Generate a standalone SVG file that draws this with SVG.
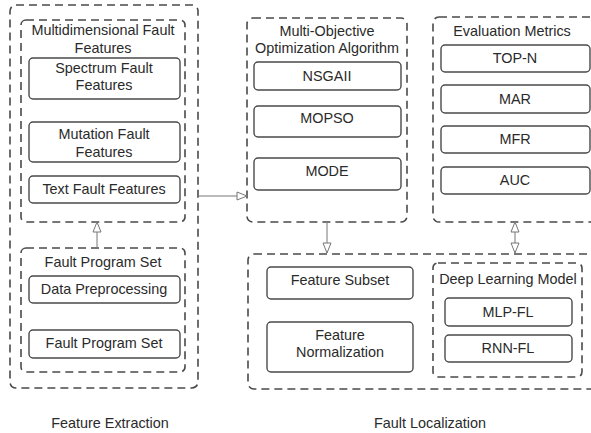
<svg xmlns="http://www.w3.org/2000/svg" width="591" height="433" viewBox="0 0 591 433">
<defs>
<style>
.grp{fill:none;stroke:#4a4a4a;stroke-width:1.6;stroke-dasharray:8 5}
.box{fill:#fff;stroke:#4a4a4a;stroke-width:1.4}
.t{font-family:"Liberation Sans",Arial,sans-serif;font-size:14.4px;fill:#2a2a2a;text-anchor:middle;dominant-baseline:central}
.c{fill:none;stroke:#777;stroke-width:1}
</style>
<marker id="ah" viewBox="0 0 12 10" refX="11" refY="5" markerWidth="12" markerHeight="10" markerUnits="userSpaceOnUse" orient="auto-start-reverse">
<path d="M1,1 L11,5 L1,9 Z" fill="#fff" stroke="#777" stroke-width="1"/>
</marker>
</defs>
<rect width="591" height="433" fill="#fff"/>

<g id="feature-extraction">
<rect class="grp" x="10" y="5" width="188" height="383" rx="6"/>
<text class="t" x="110" y="423">Feature Extraction</text>
</g>
<g id="multidimensional">
<rect class="grp" x="21" y="20" width="164" height="202" rx="5"/>
<text class="t" x="103" y="30">Multidimensional Fault</text>
<text class="t" x="103" y="48">Features</text>
</g>
<g id="spectrum">
<rect class="box" x="29" y="58" width="151" height="41" rx="4"/>
<text class="t" x="104" y="68">Spectrum Fault</text>
<text class="t" x="104" y="85">Features</text>
</g>
<g id="mutation">
<rect class="box" x="29" y="122" width="151" height="40" rx="4"/>
<text class="t" x="104" y="134">Mutation Fault</text>
<text class="t" x="104" y="152">Features</text>
</g>
<g id="text-features">
<rect class="box" x="29" y="176" width="151" height="27" rx="4"/>
<text class="t" x="104" y="189">Text Fault Features</text>
</g>
<g id="fault-program-set-group">
<rect class="grp" x="21" y="248" width="164" height="124" rx="5"/>
<text class="t" x="103" y="262">Fault Program Set</text>
</g>
<g id="data-preprocessing">
<rect class="box" x="29" y="276" width="151" height="27" rx="4"/>
<text class="t" x="104" y="289">Data Preprocessing</text>
</g>
<g id="fault-program-set">
<rect class="box" x="29" y="330" width="151" height="28" rx="4"/>
<text class="t" x="104" y="343">Fault Program Set</text>
</g>

<g id="moo">
<rect class="grp" x="247" y="18" width="160" height="204" rx="6"/>
<text class="t" x="327" y="31">Multi-Objective</text>
<text class="t" x="327" y="48">Optimization Algorithm</text>
</g>
<g id="nsgaii">
<rect class="box" x="254" y="62" width="147" height="28" rx="4"/>
<text class="t" x="327" y="76">NSGAII</text>
</g>
<g id="mopso">
<rect class="box" x="254" y="106" width="147" height="31" rx="4"/>
<text class="t" x="327" y="118">MOPSO</text>
</g>
<g id="mode">
<rect class="box" x="254" y="158" width="147" height="32" rx="4"/>
<text class="t" x="327" y="171">MODE</text>
</g>

<g id="evaluation-metrics">
<rect class="grp" x="433" y="17" width="180" height="205" rx="6"/>
<text class="t" x="512" y="31">Evaluation Metrics</text>
</g>
<g id="top-n">
<rect class="box" x="441" y="45" width="149" height="27" rx="4"/>
<text class="t" x="515" y="58">TOP-N</text>
</g>
<g id="mar">
<rect class="box" x="441" y="85" width="149" height="28" rx="4"/>
<text class="t" x="515" y="99">MAR</text>
</g>
<g id="mfr">
<rect class="box" x="441" y="126" width="149" height="27" rx="4"/>
<text class="t" x="515" y="139">MFR</text>
</g>
<g id="auc">
<rect class="box" x="441" y="167" width="149" height="27" rx="4"/>
<text class="t" x="515" y="180">AUC</text>
</g>

<g id="fault-localization">
<rect class="grp" x="248" y="254" width="365" height="135" rx="6"/>
<text class="t" x="430" y="423">Fault Localization</text>
</g>
<g id="feature-subset">
<rect class="box" x="267" y="267" width="146" height="32" rx="4"/>
<text class="t" x="340" y="280">Feature Subset</text>
</g>
<g id="feature-normalization">
<rect class="box" x="267" y="322" width="146" height="50" rx="4"/>
<text class="t" x="340" y="335">Feature</text>
<text class="t" x="340" y="352">Normalization</text>
</g>
<g id="deep-learning">
<rect class="grp" x="433" y="263" width="149" height="114" rx="5"/>
<text class="t" x="508" y="279">Deep Learning Model</text>
</g>
<g id="mlp-fl">
<rect class="box" x="445" y="298" width="127" height="28" rx="4"/>
<text class="t" x="508" y="312">MLP-FL</text>
</g>
<g id="rnn-fl">
<rect class="box" x="445" y="335" width="127" height="27" rx="4"/>
<text class="t" x="508" y="348">RNN-FL</text>
</g>

<g id="connectors">
<line class="c" x1="97" y1="248" x2="97" y2="222" marker-end="url(#ah)"/>
<line class="c" x1="198" y1="196" x2="247" y2="196" marker-end="url(#ah)"/>
<line class="c" x1="327" y1="222" x2="327" y2="253" marker-end="url(#ah)"/>
<line class="c" x1="515" y1="253" x2="515" y2="222" marker-start="url(#ah)" marker-end="url(#ah)"/>
</g>
</svg>
